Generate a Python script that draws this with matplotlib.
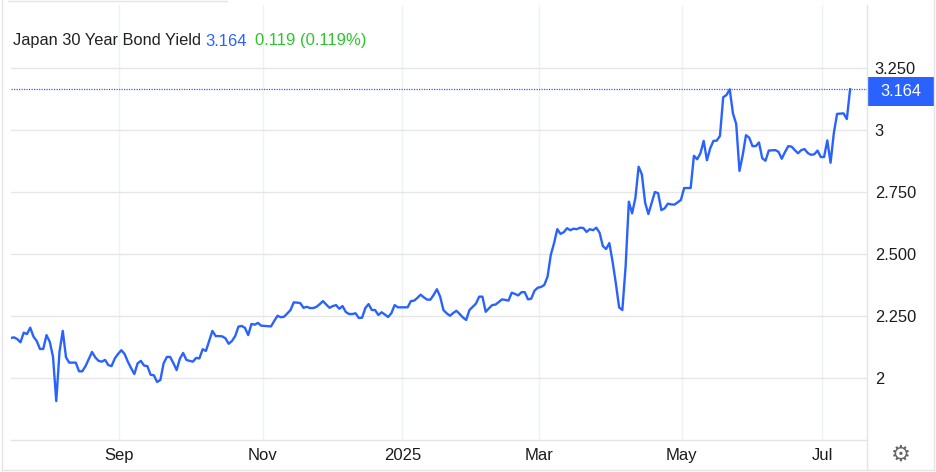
import matplotlib
matplotlib.use("Agg")
import matplotlib.pyplot as plt
from matplotlib.lines import Line2D
from matplotlib.patches import Rectangle

plt.rcParams['font.family'] = ['Liberation Sans', 'DejaVu Sans']

# Daily closes, one per trading session
yields = [
 2.161,2.164,2.157,2.144,2.183,2.177,2.203,2.167,2.149,2.117,2.117,2.173,2.146,2.086,1.907,2.106,2.190,2.083,2.062,2.062,
 2.062,2.027,2.027,2.048,2.077,2.105,2.083,2.069,2.066,2.073,2.052,2.048,2.079,2.097,2.112,2.097,2.066,2.040,2.016,2.059,
 2.069,2.050,2.048,2.013,2.011,1.984,1.992,2.059,2.085,2.085,2.060,2.032,2.078,2.101,2.073,2.069,2.066,2.081,2.079,2.116,
 2.109,2.149,2.190,2.169,2.169,2.168,2.160,2.138,2.149,2.169,2.207,2.210,2.202,2.173,2.218,2.215,2.222,2.211,2.210,2.209,
 2.208,2.230,2.251,2.245,2.247,2.260,2.274,2.305,2.304,2.302,2.283,2.287,2.282,2.282,2.287,2.298,2.310,2.296,2.283,2.290,
 2.294,2.279,2.290,2.266,2.258,2.258,2.261,2.242,2.243,2.282,2.298,2.274,2.274,2.254,2.265,2.256,2.246,2.261,2.294,2.285,
 2.285,2.285,2.285,2.310,2.312,2.323,2.336,2.325,2.316,2.316,2.335,2.358,2.328,2.274,2.261,2.251,2.262,2.271,2.258,2.244,
 2.234,2.274,2.287,2.300,2.328,2.328,2.267,2.281,2.294,2.296,2.306,2.317,2.315,2.312,2.344,2.339,2.333,2.346,2.346,2.317,
 2.320,2.352,2.364,2.367,2.375,2.408,2.496,2.543,2.600,2.581,2.588,2.604,2.596,2.602,2.600,2.606,2.605,2.589,2.600,2.596,
 2.606,2.586,2.532,2.520,2.544,2.469,2.382,2.285,2.274,2.449,2.711,2.664,2.725,2.852,2.821,2.707,2.661,2.706,2.750,2.745,
 2.677,2.684,2.703,2.700,2.699,2.708,2.718,2.766,2.766,2.766,2.896,2.882,2.906,2.956,2.878,2.926,2.956,2.957,2.976,3.132,
 3.141,3.164,3.067,3.024,2.835,2.899,2.979,2.969,2.935,2.935,2.950,2.886,2.876,2.917,2.918,2.919,2.912,2.884,2.911,2.935,
 2.933,2.919,2.906,2.919,2.923,2.907,2.900,2.902,2.917,2.891,2.891,2.958,2.868,2.987,3.065,3.066,3.067,3.044,3.164,
]
sessions = list(range(len(yields)))
month_labels = ['Sep', 'Nov', '2025', 'Mar', 'May', 'Jul']
month_sessions = [33.3, 77.4, 120.4, 162.5, 206.2, 249.5]
y_ticks = [2, 2.25, 2.5, 2.75, 3, 3.25]
y_tick_labels = ['2', '2.250', '2.500', '2.750', '3', '3.250']
last_value = 3.164
title_name = 'Japan 30 Year Bond Yield'
last_text = '3.164'
change_text = '0.119 (0.119%)'

W, H = 936, 472
BLUE = '#2962ff'
fig = plt.figure(figsize=(W/100, H/100), dpi=100, facecolor='white')

def fx(p): return p / W
def fy(p): return 1 - p / H

ax = fig.add_axes([fx(11), fy(440), fx(867) - fx(11), fy(5) - fy(440)])
ax.set_xlim(0.09, 263.2)
ax.set_ylim(1.75, 3.504)
ax.set_facecolor('white')
for s in ax.spines.values():
    s.set_visible(False)
ax.spines['bottom'].set_visible(True)
ax.spines['bottom'].set_color('#e4e4e4')
ax.spines['bottom'].set_linewidth(1.0)
ax.yaxis.tick_right()
ax.set_xticks(month_sessions, month_labels)
ax.set_yticks(y_ticks, y_tick_labels)
ax.tick_params(axis='x', length=0, pad=6, labelsize=12, labelcolor='#1c1c1c')
ax.tick_params(axis='y', length=0, pad=5.5, labelsize=11.8, labelcolor='#1c1c1c')
for lab in ax.get_yticklabels():
    lab.set_y(lab.get_position()[1])
ax.grid(True, axis='y', color='#e6e6e6', lw=1.0)
ax.grid(True, axis='x', color='#eef2f6', lw=1.0)
ax.set_axisbelow(True)

ax.axhline(last_value, color=BLUE, lw=0.9, ls=(0, (1, 1)), zorder=2)
ax.plot(sessions, yields, color=BLUE, lw=1.7, solid_joinstyle='round', zorder=3)

# Frame lines
frame = '#e4e4e4'
fig.add_artist(Line2D([fx(867)]*2, [fy(5), fy(470)], color=frame, lw=1.0))
fig.add_artist(Line2D([fx(2)]*2, [fy(0), fy(470)], color=frame, lw=1.0))
fig.add_artist(Line2D([fx(934)]*2, [fy(0), fy(470)], color=frame, lw=1.0))
fig.add_artist(Line2D([fx(2), fx(934)], [fy(470)]*2, color=frame, lw=1.0))
fig.add_artist(Line2D([fx(8), fx(227)], [fy(1)]*2, color=frame, lw=1.0))

# Last-price tag
fig.add_artist(Rectangle((fx(867), fy(106)), fx(934) - fx(867), fy(77) - fy(106),
                         transform=fig.transFigure, color=BLUE, lw=0))
fig.text(fx(901), fy(92), last_text, color='white', fontsize=11.8, ha='center', va='center')

# Header
fig.text(fx(13), fy(41), title_name, color='#222222', fontsize=11.8, va='center')
fig.text(fx(205), fy(41), last_text, color=BLUE, fontsize=12, va='center')
fig.text(fx(255.5), fy(41), change_text, color='#2ec42e', fontsize=12, va='center')

# Settings icon
fig.text(fx(901), fy(455), '\u2699', color='#666666', fontsize=16, ha='center', va='center',
         family='DejaVu Sans')

fig.savefig('out.png', dpi=100)
